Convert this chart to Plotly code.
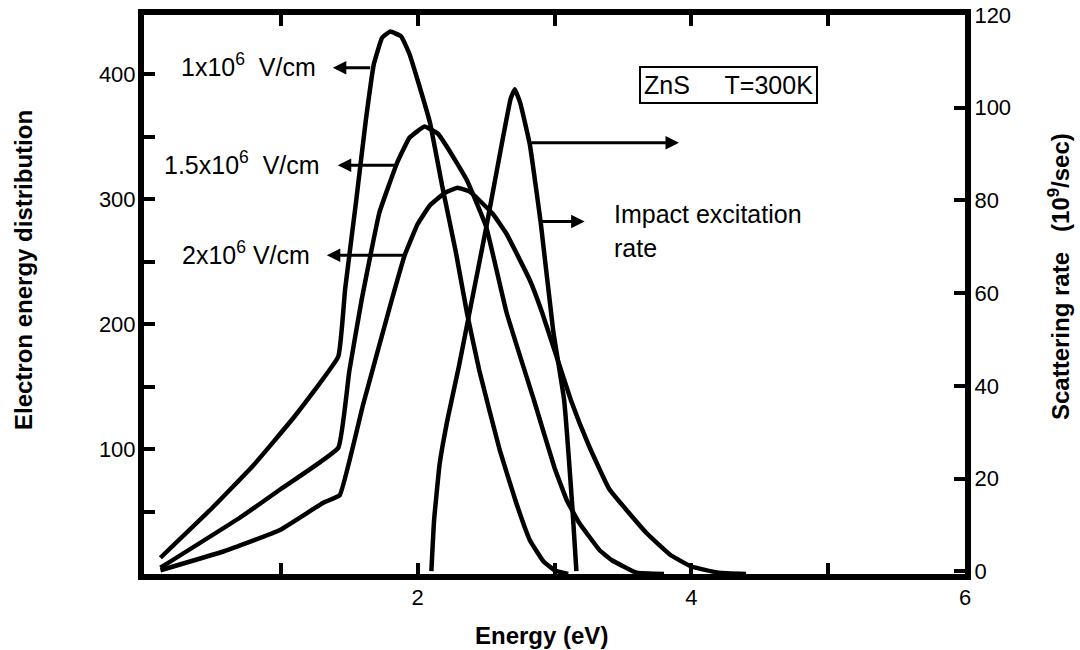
import plotly.graph_objects as go

# ---------------- data ----------------
energy_1e6 = [0.12, 0.5, 0.8, 1.1, 1.42, 1.47, 1.55, 1.62, 1.68, 1.74, 1.80, 1.88, 1.94,
              2.0, 2.09, 2.18, 2.28, 2.36, 2.45, 2.6, 2.72, 2.82, 2.92, 3.0, 3.1]
dist_1e6 = [13, 53, 87, 126, 174, 228, 298, 362, 408, 429, 434, 430, 416,
            395, 361, 310, 257, 209, 163, 99, 57, 27, 10, 3, 0]

energy_15e6 = [0.12, 0.7, 1.0, 1.42, 1.5, 1.59, 1.72, 1.85, 1.94, 2.05, 2.15, 2.23, 2.36,
               2.5, 2.65, 2.85, 3.0, 3.09, 3.18, 3.33, 3.42, 3.6, 3.8]
dist_15e6 = [5, 45, 68, 101, 162, 219, 289, 329, 349, 358, 352, 339, 315,
             278, 209, 139, 85, 59, 41, 19, 11, 1, 0]

energy_2e6 = [0.12, 0.58, 0.99, 1.31, 1.43, 1.6, 1.81, 1.905, 2.0, 2.09, 2.2, 2.29, 2.38,
              2.45, 2.55, 2.65, 2.82, 2.91, 3.12, 3.25, 3.4, 3.67, 3.85, 4.0, 4.2, 4.4]
dist_2e6 = [3, 18, 35, 57, 63, 135, 219, 255, 280, 295, 305, 309, 306,
            299, 288, 272, 235, 209, 139, 103, 68, 33, 15, 6, 1, 0]

energy_impact = [2.1, 2.12, 2.16, 2.22, 2.3, 2.38, 2.5, 2.62, 2.68, 2.71, 2.75,
                 2.82, 2.9, 2.99, 3.07, 3.13, 3.16]
rate_impact = [0, 11, 23, 33, 44, 56, 74, 93, 102, 104, 101,
               92, 75, 52, 37, 14, 0]

x_tickvals = [2, 4, 6]
y_tickvals = [100, 200, 300, 400]
y2_tickvals = [0, 20, 40, 60, 80, 100, 120]

FONT = "Liberation Sans, Arial, sans-serif"
LW = 4.5

fig = go.Figure()
for xs, ys in [(energy_1e6, dist_1e6), (energy_15e6, dist_15e6), (energy_2e6, dist_2e6)]:
    fig.add_trace(go.Scatter(x=xs, y=ys, mode="lines",
                             line=dict(color="black", width=LW, shape="spline", smoothing=0.3),
                             showlegend=False, hoverinfo="skip"))
fig.add_trace(go.Scatter(x=energy_impact, y=rate_impact, mode="lines", yaxis="y2",
                         line=dict(color="black", width=LW, shape="spline", smoothing=0.3),
                         showlegend=False, hoverinfo="skip"))

axis_common = dict(showgrid=False, zeroline=False, showline=True, linecolor="black",
                   linewidth=6, ticks="inside", ticklen=11, tickwidth=4, tickcolor="black",
                   automargin=False,
                   tickfont=dict(family=FONT, size=22, color="black"))

fig.update_layout(
    width=1080, height=650,
    margin=dict(l=144, r=115, t=15, b=76, autoexpand=False),
    paper_bgcolor="white", plot_bgcolor="white",
    font=dict(family=FONT, color="black"),
    xaxis=dict(range=[0, 6], tickvals=x_tickvals, mirror="ticks",
               minor=dict(tickvals=[1, 3, 5], ticks="inside", ticklen=11, tickwidth=4,
                          tickcolor="black"),
               ticklabelstandoff=-1, **axis_common),
    yaxis=dict(range=[0, 447.2], tickvals=y_tickvals,
               minor=dict(tickvals=[50, 150, 250, 350], ticks="inside", ticklen=11,
                          tickwidth=4, tickcolor="black"),
               ticklabelstandoff=-2, **axis_common),
    yaxis2=dict(range=[-0.6, 120], tickvals=y2_tickvals, overlaying="y", side="right",
                ticklabelstandoff=-1, **axis_common),
    showlegend=False,
)

ann = []
lab_font = dict(family=FONT, size=25, color="black")
# field labels with arrows pointing left (from curves)
labels = [("1x10<sup>6</sup>\u00a0\u00a0V/cm", 1.27, 405, 1.38, 1.664),
          ("1.5x10<sup>6</sup>\u00a0\u00a0V/cm", 1.30, 327, 1.416, 1.854),
          ("2x10<sup>6</sup>\u00a0V/cm", 1.23, 255, 1.336, 1.905)]
for txt, tx, ty, tip, tail in labels:
    ann.append(dict(x=tx, y=ty + 2, xref="x", yref="y", text=txt, showarrow=False,
                    xanchor="right", yanchor="middle", font=lab_font))
    ann.append(dict(x=tip, y=ty, ax=tail, ay=ty, xref="x", yref="y", axref="x", ayref="y",
                    text="", showarrow=True, arrowhead=2, arrowsize=0.9, arrowwidth=3,
                    arrowcolor="black"))
# impact excitation arrows pointing right
ann.append(dict(x=3.91, y=345, ax=2.82, ay=345, xref="x", yref="y", axref="x", ayref="y",
                text="", showarrow=True, arrowhead=2, arrowsize=0.9, arrowwidth=3,
                arrowcolor="black"))
ann.append(dict(x=3.22, y=282, ax=2.876, ay=282, xref="x", yref="y", axref="x", ayref="y",
                text="", showarrow=True, arrowhead=2, arrowsize=0.9, arrowwidth=3,
                arrowcolor="black"))
ann.append(dict(x=3.42, y=288, xref="x", yref="y", text="Impact excitation", showarrow=False,
                xanchor="left", yanchor="middle", font=lab_font))
ann.append(dict(x=3.42, y=261, xref="x", yref="y", text="rate", showarrow=False,
                xanchor="left", yanchor="middle", font=lab_font))
# boxed material label
ann.append(dict(x=4.27, y=391, xref="x", yref="y", text="ZnS\u00a0\u00a0\u00a0\u00a0\u00a0T=300K",
                showarrow=False, xanchor="center", yanchor="middle", font=lab_font,
                bordercolor="black", borderwidth=2, borderpad=3, bgcolor="white"))
# axis titles (pixel positions converted to paper coordinates below)
title_font = dict(family=FONT, size=24, color="black")
ann.append(dict(x=541, y=635, xref="paper", yref="paper", text="<b>Energy (eV)</b>",
                showarrow=False, font=title_font))
ann.append(dict(x=23, y=270, xref="paper", yref="paper", text="<b>Electron energy distribution</b>",
                showarrow=False, textangle=-90, font=title_font))
ann.append(dict(x=1059, y=277, xref="paper", yref="paper",
                text="<b>Scattering rate\u00a0\u00a0\u00a0(10<sup>9</sup>/sec)</b>",
                showarrow=False, textangle=-90, font=title_font))

pl, pr, pt, pb = 144, 965, 15, 574
for a in ann:
    if a.get("xref") == "paper":
        a["x"] = (a["x"] - pl) / (pr - pl)
        a["y"] = (pb - a["y"]) / (pb - pt)
        a["xanchor"] = "center"
        a["yanchor"] = "middle"
fig.update_layout(annotations=ann)

fig.write_html("out.html")
